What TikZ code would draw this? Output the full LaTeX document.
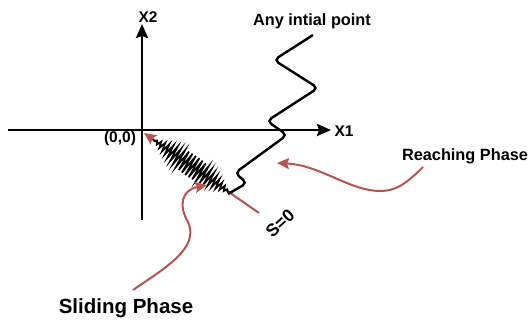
\documentclass[tikz,border=0pt]{standalone}
\usepackage{fontspec}
\setmainfont{Liberation Sans}
\usetikzlibrary{arrows.meta}
\definecolor{phs}{RGB}{184,84,80}
\tikzset{
  axis/.style={line width=2.8pt, -{Stealth[length=14pt, width=12pt, inset=2pt]}},
  traj/.style={line width=2.4pt, rounded corners=5pt},
  % zig-zag of the chattering
  chat/.style={line width=1.6pt, line join=miter},
  ar/.style={line width=2pt, draw=phs, -{Stealth[length=12pt, width=11pt, inset=2pt]}},
  lbl/.style={font=\bfseries\fontsize{16.3}{18}\selectfont, inner sep=0pt},
  ax/.style={font=\bfseries\fontsize{15.5}{17}\selectfont, inner sep=0pt}
}

\begin{document}
\begin{tikzpicture}[x=1pt, y=-1pt]
  \useasboundingbox (0,0) rectangle (529,320);
  % axes
  \coordinate (x1l) at (8,130);
  \coordinate (x1r) at (331,130);
  \coordinate (x2b) at (142,220);
  \coordinate (x2t) at (142,24);
  \draw[axis] (x1l) -- (x1r);
  \draw[axis] (x2b) -- (x2t);
  \node[ax] (x1) at (344,131) {X1};
  \node[ax] (x2) at (148,17) {X2};
  \node[ax] (orig) at (120,138) {(0,0)};

  % sliding surface S=0
  \node[ax, font=\bfseries\fontsize{17.5}{19}\selectfont, rotate=42] (s0) at (280,223) {S=0};
  \coordinate (s0a) at (259,213);
  \coordinate (s0b) at (144,133);
  \draw[ar] (s0a) -- (s0b);
  \draw[chat] plot[domain=0:1, samples=47]
    ({153+77*\x + 11*sin(180*\x)*cos(8280*\x)*0.569},
     {139.3+53.4*\x - 11*sin(180*\x)*cos(8280*\x)*0.822});

  % trajectory from the initial point
  \node[lbl] (init) at (312,21) {Any intial point};
  \coordinate (p0) at (313,35);
  \coordinate (p1) at (228,194);
  \draw[traj] (p0) -- (274,60) -- (318,88) -- (267,121) -- (287,135)
    -- (235,173) -- (247,183) -- (p1);

  % phases
  \node[lbl] (reach) at (465,156) {Reaching Phase};
  \coordinate (rc0) at (423,167);
  \coordinate (rc1) at (277,163);
  \draw[ar] (rc0) .. controls (405,185) and (395,191) .. (380,191)
    .. controls (350,191) and (320,165) .. (rc1);

  \node[lbl, font=\bfseries\fontsize{20.5}{22}\selectfont] (slide) at (126,308) {Sliding Phase};
  \coordinate (sl0) at (133,290);
  \coordinate (sl1) at (207,185);
  \draw[ar] (sl0) .. controls (165,268) and (200,248) .. (188,222)
    .. controls (178,205) and (182,190) .. (sl1);
\end{tikzpicture}
\end{document}
